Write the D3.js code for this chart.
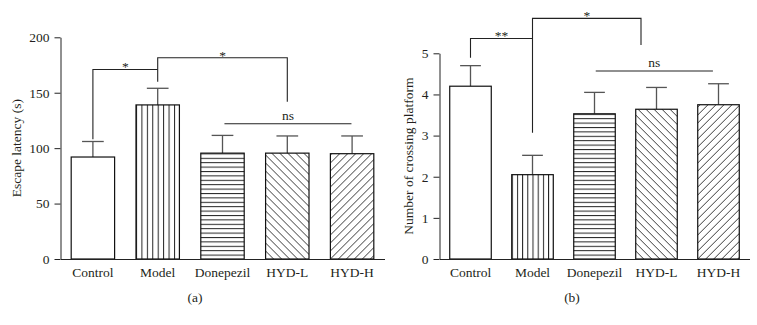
<!DOCTYPE html>
<html><head><meta charset="utf-8">
<script src="https://cdn.jsdelivr.net/npm/d3@7/dist/d3.min.js"></script>
<style>
body{margin:0;background:#fff}
svg{display:block}
text{font-family:"Liberation Serif","Times New Roman",serif;fill:#231f20}
</style>
</head><body>
<svg id="chart" width="757" height="325"></svg>
<script>
// ---- data ----
const categories = ["Control", "Model", "Donepezil", "HYD-L", "HYD-H"];
const latencyMean = [92, 139, 95.5, 95.5, 95];
const latencyErr = [14, 15, 16, 15.5, 16];
const crossingMean = [4.2, 2.05, 3.53, 3.64, 3.75];
const crossingErr = [0.5, 0.47, 0.52, 0.53, 0.51];
const latencyTicks = [0, 50, 100, 150, 200];
const crossingTicks = [0, 1, 2, 3, 4, 5];
const barPatterns = ["none", "vertical", "horizontal", "backslash", "slash"];
// significance brackets: x in category-index units, heights in data units
const latencyBrackets = [
  {x1: 0, x2: 1, y: 171, yLeft: 108, yRight: null, label: "*"},
  {x1: 1, x2: 3, y: 181.6, yLeft: 160, yRight: 141.8, label: "*"}
];
const latencyNs = {x1: 2.03, x2: 3.99, y: 122, label: "ns"};
const crossingBrackets = [
  {x1: 0, x2: 1, y: 5.36, yLeft: 4.89, yRight: null, label: "**"},
  {x1: 1, x2: 2.75, y: 5.85, yLeft: 3.07, yRight: 5.2, label: "*"}
];
const crossingNs = {x1: 2.02, x2: 3.91, y: 4.57, label: "ns"};

const svg = d3.select("#chart");
const defs = svg.append("defs");
const FONT = 13.5;

function panel(opts) {
  const {id, means, errs, ticks, domain, xRange, yRange, yLabel, yLabelX, brackets, ns, tag, tagX} = opts;
  const g = svg.append("g");
  const x = d3.scaleBand().domain(categories).range(xRange).paddingInner(0.33).paddingOuter(0.165);
  const y = d3.scaleLinear().domain(domain).range(yRange);
  const bw = x.bandwidth();
  const cx = i => x(categories[0]) + bw / 2 + i * x.step();

  // patterns
  const mk = (name, w, h, ox, oy) => defs.append("pattern").attr("id", id + name)
    .attr("patternUnits", "userSpaceOnUse").attr("width", w).attr("height", h)
    .attr("x", ox).attr("y", oy);
  const pv = mk("vertical", bw / 8, 10, x("Model"), 0);
  pv.append("rect").attr("width", bw / 8).attr("height", 10).attr("fill", "#fff");
  pv.append("line").attr("x1", 0.5).attr("x2", 0.5).attr("y1", 0).attr("y2", 10)
    .attr("stroke", "#222").attr("stroke-width", 1);
  const hs = 4.4;
  const ph = mk("horizontal", 10, hs, 0, y(0));
  ph.append("rect").attr("width", 10).attr("height", hs).attr("fill", "#fff");
  ph.append("line").attr("x1", 0).attr("x2", 10).attr("y1", 0.5).attr("y2", 0.5)
    .attr("stroke", "#222").attr("stroke-width", 1);
  const ds = 8;
  const pb = mk("backslash", ds, ds, x("HYD-L"), y(0));
  pb.append("rect").attr("width", ds).attr("height", ds).attr("fill", "#fff");
  pb.append("path").attr("d", `M0,0L${ds},${ds}M${-ds/2},${ds/2}L${ds/2},${ds*1.5}M${ds/2},${-ds/2}L${ds*1.5},${ds/2}`)
    .attr("stroke", "#222").attr("stroke-width", 0.9);
  const ps = mk("slash", ds, ds, x("HYD-H"), y(0));
  ps.append("rect").attr("width", ds).attr("height", ds).attr("fill", "#fff");
  ps.append("path").attr("d", `M0,${ds}L${ds},0M${-ds/2},${ds/2}L${ds/2},${-ds/2}M${ds/2},${ds*1.5}L${ds*1.5},${ds/2}`)
    .attr("stroke", "#222").attr("stroke-width", 0.9);

  const data = categories.map((c, i) => ({c, m: means[i], e: errs[i], p: barPatterns[i]}));

  // error bars
  const eb = g.append("g").attr("stroke", "#555").attr("stroke-width", 1.3);
  eb.selectAll("line.stem").data(data).join("line").attr("class", "stem")
    .attr("x1", d => x(d.c) + bw / 2).attr("x2", d => x(d.c) + bw / 2)
    .attr("y1", d => y(d.m)).attr("y2", d => y(d.m + d.e));
  eb.selectAll("line.cap").data(data).join("line").attr("class", "cap")
    .attr("x1", d => x(d.c) + bw / 4).attr("x2", d => x(d.c) + bw * 3 / 4)
    .attr("y1", d => y(d.m + d.e)).attr("y2", d => y(d.m + d.e));

  // bars
  g.selectAll("rect.bar").data(data).join("rect").attr("class", "bar")
    .attr("x", d => x(d.c)).attr("width", bw)
    .attr("y", d => y(d.m)).attr("height", d => y(0) - y(d.m))
    .attr("fill", d => d.p === "none" ? "#fff" : `url(#${id}${d.p})`)
    .attr("stroke", "#111").attr("stroke-width", 1.2);

  // axes
  const ya = g.append("g").attr("transform", `translate(${xRange[0]},0)`)
    .call(d3.axisLeft(y).tickValues(ticks).tickSize(6).tickSizeOuter(0).tickPadding(5).tickFormat(d3.format("d")));
  ya.attr("font-family", null);
  ya.selectAll("text").attr("font-size", FONT);
  ya.selectAll("path,line").attr("stroke", "#222");
  const xa = g.append("g").attr("transform", `translate(0,${y(0)})`)
    .call(d3.axisBottom(x).tickSize(0).tickSizeOuter(0).tickPadding(8));
  xa.attr("font-family", null);
  xa.selectAll("text").attr("font-size", FONT);
  xa.selectAll("path").attr("stroke", "#222");

  // y label
  g.append("text").attr("transform", `translate(${yLabelX},${(yRange[0] + yRange[1]) / 2}) rotate(-90)`)
    .attr("text-anchor", "middle").attr("font-size", FONT).text(yLabel);

  // brackets
  const bg = g.append("g").attr("stroke", "#222").attr("stroke-width", 1.1).attr("fill", "none");
  brackets.forEach(b => {
    let d = `M${cx(b.x1)},${y(b.yLeft)}V${y(b.y)}H${cx(b.x2)}`;
    if (b.yRight !== null) d += `V${y(b.yRight)}`;
    bg.append("path").attr("d", d);
    g.append("text").attr("x", (cx(b.x1) + cx(b.x2)) / 2).attr("y", y(b.y) + 2)
      .attr("text-anchor", "middle").attr("font-size", FONT).text(b.label);
  });
  bg.append("line").attr("x1", cx(ns.x1)).attr("x2", cx(ns.x2)).attr("y1", y(ns.y)).attr("y2", y(ns.y));
  g.append("text").attr("x", (cx(ns.x1) + cx(ns.x2)) / 2).attr("y", y(ns.y) - 4)
    .attr("text-anchor", "middle").attr("font-size", FONT).text(ns.label);

  // panel tag
  g.append("text").attr("x", tagX).attr("y", 302).attr("text-anchor", "middle")
    .attr("font-size", FONT).text(tag);
}

panel({id: "a", means: latencyMean, errs: latencyErr, ticks: latencyTicks, domain: [0, 200],
  xRange: [60.5, 384.5], yRange: [259, 37.3], yLabel: "Escape latency (s)", yLabelX: 21,
  brackets: latencyBrackets, ns: latencyNs, tag: "(a)", tagX: 195});
panel({id: "b", means: crossingMean, errs: crossingErr, ticks: crossingTicks, domain: [0, 5],
  xRange: [439.5, 749.5], yRange: [259, 53.3], yLabel: "Number of crossing platform", yLabelX: 413,
  brackets: crossingBrackets, ns: crossingNs, tag: "(b)", tagX: 572});
</script>
</body></html>
